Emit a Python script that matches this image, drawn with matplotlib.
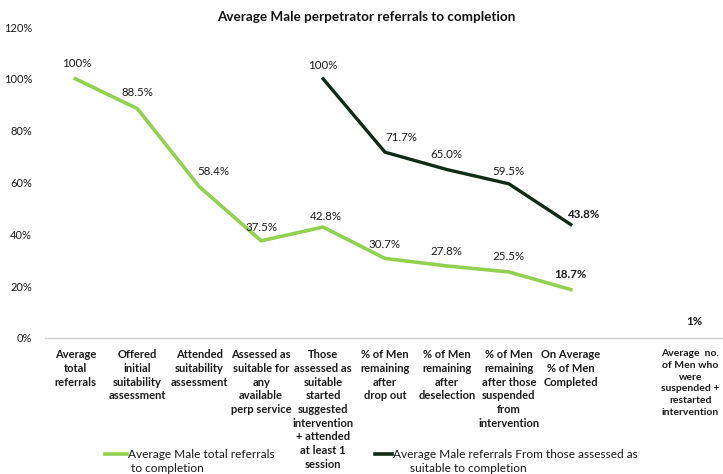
"""Average Male perpetrator referrals to completion - line chart recreation."""

import matplotlib

matplotlib.use("Agg")
import matplotlib.pyplot as plt
import matplotlib.transforms as mtransforms
from matplotlib.lines import Line2D
from matplotlib.ticker import FuncFormatter

plt.rcParams["font.family"] = ["Lato", "DejaVu Sans"]

# categories along the x axis (one blank slot before the last)
categories = [
    "Average\ntotal\nreferrals",
    "Offered\ninitial\nsuitability\nassessment",
    "Attended\nsuitability\nassessment",
    "Assessed as\nsuitable for\nany\navailable\nperp service",
    "Those\nassessed as\nsuitable\nstarted\nsuggested\nintervention\n+ attended\nat least 1\nsession",
    "% of Men\nremaining\nafter\ndrop out",
    "% of Men\nremaining\nafter\ndeselection",
    "% of Men\nremaining\nafter those\nsuspended\nfrom\nintervention",
    "On Average\n% of Men\nCompleted",
    "",
    "Average  no.\nof Men who\nwere\nsuspended +\nrestarted\nintervention",
]

# series values, percent
total_idx = [0, 1, 2, 3, 4, 5, 6, 7, 8]
total_vals = [100, 88.5, 58.4, 37.5, 42.8, 30.7, 27.8, 25.5, 18.7]
total_labels = ["100%", "88.5%", "58.4%", "37.5%", "42.8%", "30.7%", "27.8%", "25.5%", "18.7%"]

suitable_idx = [4, 5, 6, 7, 8]
suitable_vals = [100, 71.7, 65.0, 59.5, 43.8]
suitable_labels = ["100%", "71.7%", "65.0%", "59.5%", "43.8%"]

suspended_idx = [10]
suspended_vals = [1]
suspended_labels = ["1%"]

legend_total = ["Average Male total referrals", "to completion"]
legend_suitable = ["Average Male referrals From those assessed as", "suitable to completion"]

# where each data label sits relative to its point (pixels right, up)
total_label_off = [(1, 15), (0, 16), (14, 15), (0, 13), (3, 11), (-1, 14), (-1, 14), (0, 15), (0, 15)]
suitable_label_off = [(0, 13), (16, 15), (-1, 15), (0, 12), (13, 10)]
suspended_label_off = [(0, 14)]

GREEN = "#92D050"
DARK = "#0F2A16"
TXT = "#1A1A1A"

W, H = 723, 474
fig = plt.figure(figsize=(W / 100, H / 100), dpi=100)
ax = fig.add_axes([44.5 / W, (H - 338) / H, 681 / W, 311 / H])

ax.plot(total_idx, total_vals, color=GREEN, lw=2.6, solid_joinstyle="round")
ax.plot(suitable_idx, suitable_vals, color=DARK, lw=2.4, solid_joinstyle="round")


def label_points(xs, ys, texts, offsets):
    for i, (x, y, t, off) in enumerate(zip(xs, ys, texts, offsets)):
        last = i == len(xs) - 1
        ax.annotate(t, (x, y), xytext=off, textcoords="offset pixels", ha="center",
                    va="center", fontsize=8.3, color=TXT,
                    fontweight="bold" if last else "normal")


label_points(total_idx, total_vals, total_labels, total_label_off)
label_points(suitable_idx, suitable_vals, suitable_labels, suitable_label_off)
label_points(suspended_idx, suspended_vals, suspended_labels, suspended_label_off)

ax.set_xlim(-0.5, len(categories) - 0.5)
ax.set_ylim(0, 120)
ax.set_yticks(range(0, 121, 20))
ax.yaxis.set_major_formatter(FuncFormatter(lambda v, _: f"{v:.0f}%"))
ax.set_xticks(range(len(categories)))
ax.set_xticklabels(categories, fontsize=8, fontweight="bold", linespacing=1.3)
ax.tick_params(axis="both", length=0, colors=TXT)
ax.tick_params(axis="y", labelsize=8, pad=9)
ax.tick_params(axis="x", pad=8)

# last label hugs the right edge, as in the source
last_lbl = ax.get_xticklabels()[-1]
last_lbl.set_fontsize(7.5)
last_lbl.set_linespacing(1.39)
last_lbl.set_transform(last_lbl.get_transform()
                       + mtransforms.ScaledTranslation(-4 / 100, 0, fig.dpi_scale_trans))

for side in ["top", "right", "left"]:
    ax.spines[side].set_visible(False)
ax.spines["bottom"].set_color("#D0D0D0")
ax.spines["bottom"].set_linewidth(1)

fig.text(366 / W, 1 - 17 / H, "Average Male perpetrator referrals to completion",
         ha="center", va="center", fontsize=9.7, fontweight="bold", color="#111111")

# legend, drawn below the chart with the text wrapped as in the source
for (x0, x1, xt, xt2), color, lines in [
    ((105, 127, 128, 131), GREEN, legend_total),
    ((375, 392, 393, 410), DARK, legend_suitable),
]:
    fig.add_artist(Line2D([x0 / W, x1 / W], [1 - 454 / H, 1 - 454 / H],
                          transform=fig.transFigure, color=color, lw=2.6))
    fig.text(xt / W, 1 - 454 / H, lines[0], ha="left", va="center", fontsize=8.6, color=TXT)
    fig.text(xt2 / W, 1 - 468 / H, lines[1], ha="left", va="center", fontsize=8.6, color=TXT)

fig.savefig("out.png", dpi=100)
